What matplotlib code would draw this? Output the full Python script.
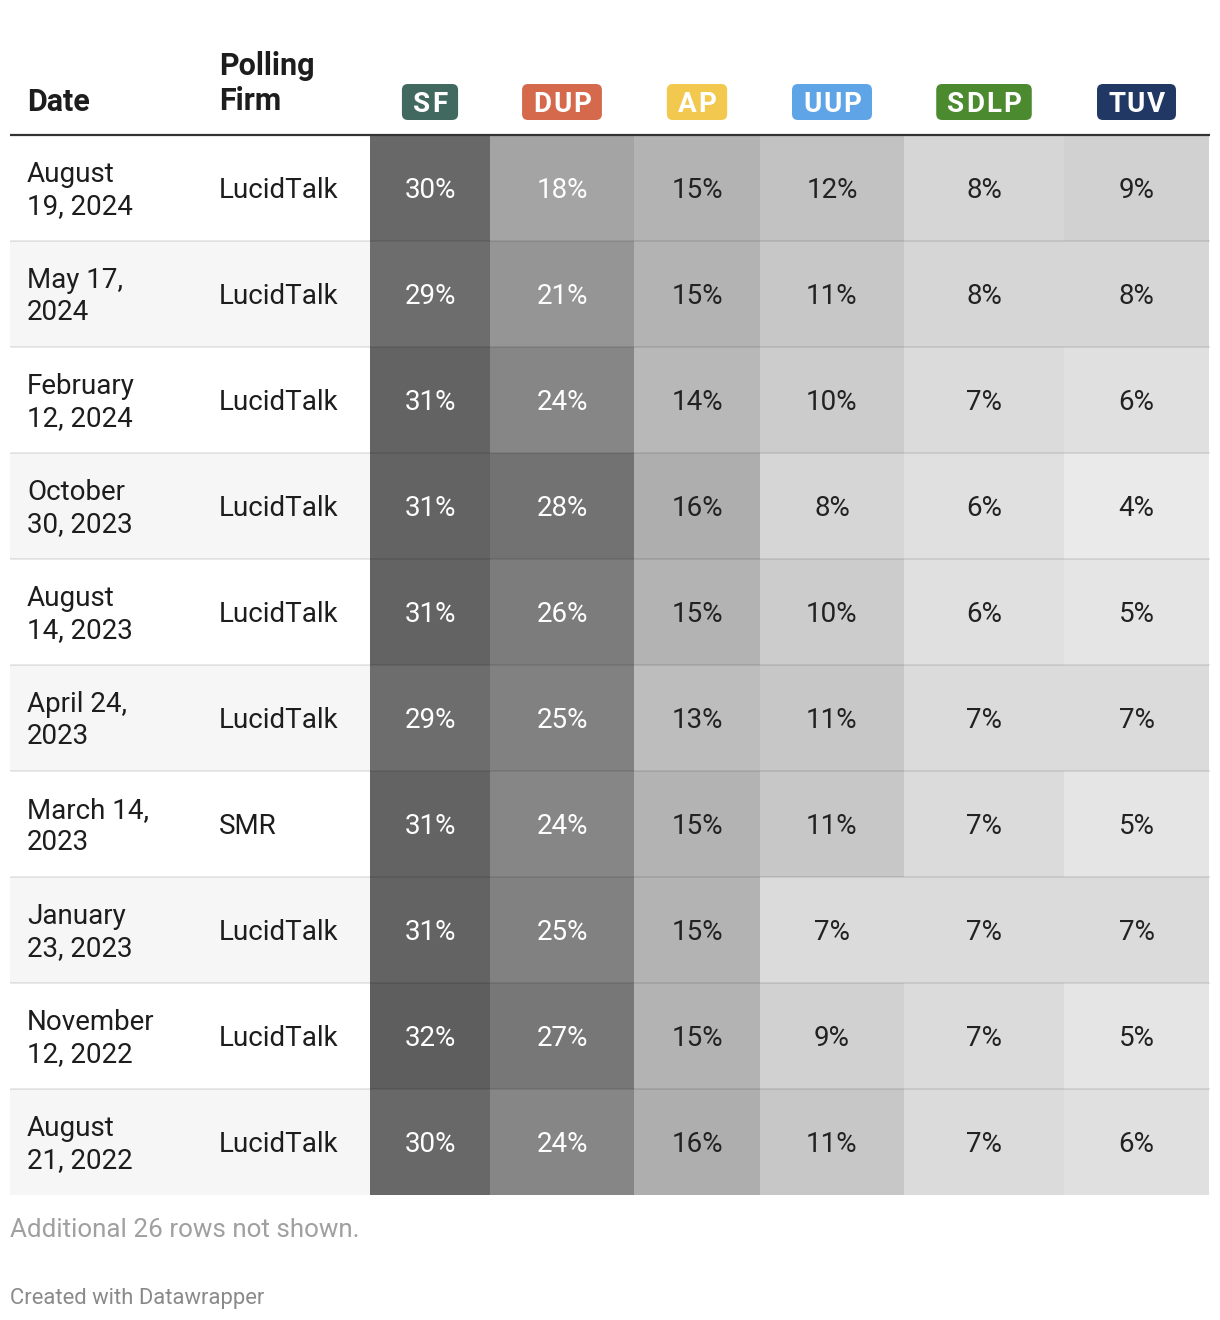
import matplotlib.pyplot as plt
import numpy as np
from matplotlib.colors import LinearSegmentedColormap, Normalize
from matplotlib.patches import FancyBboxPatch

plt.rcParams['font.family'] = ['Roboto', 'DejaVu Sans']

# Data
dates = ["August\n19, 2024", "May 17,\n2024", "February\n12, 2024", "October\n30, 2023",
         "August\n14, 2023", "April 24,\n2023", "March 14,\n2023", "January\n23, 2023",
         "November\n12, 2022", "August\n21, 2022"]
firms = ["LucidTalk", "LucidTalk", "LucidTalk", "LucidTalk", "LucidTalk",
         "LucidTalk", "SMR", "LucidTalk", "LucidTalk", "LucidTalk"]
parties = ["SF", "DUP", "AP", "UUP", "SDLP", "TUV"]
party_colors = ["#42695f", "#d5694b", "#f2c94e", "#5fa4e6", "#4c8a30", "#213865"]
sf = [30, 29, 31, 31, 31, 29, 31, 31, 32, 30]
dup = [18, 21, 24, 28, 26, 25, 24, 25, 27, 24]
ap = [15, 15, 14, 16, 15, 13, 15, 15, 15, 16]
uup = [12, 11, 10, 8, 10, 11, 11, 7, 9, 11]
sdlp = [8, 8, 7, 6, 6, 7, 7, 7, 7, 7]
tuv = [9, 8, 6, 4, 5, 7, 5, 7, 5, 6]

values = np.array([sf, dup, ap, uup, sdlp, tuv]).T

# Layout (pixels)
col_edges = np.array([370, 490, 634, 760, 904, 1064, 1209])
row_h = 106
top = 135
row_edges = top + row_h * np.arange(len(dates) + 1)
row_centers = (row_edges[:-1] + row_edges[1:]) / 2
col_centers = (col_edges[:-1] + col_edges[1:]) / 2

fig = plt.figure(figsize=(12.2, 13.2), dpi=100)
ax = fig.add_axes([0, 0, 1, 1])
ax.set_xlim(0, 1220)
ax.set_ylim(1320, 0)
ax.axis('off')

# Striped background for the text columns
stripe = ['white' if i % 2 == 0 else '#f6f6f6' for i in range(len(dates))]
ax.barh(row_centers, 360, left=10, height=row_h, color=stripe, zorder=0)

# Heat cells
cmap = LinearSegmentedColormap.from_list('greys', ['#eaeaea', '#5e5e5e'])
norm = Normalize(vmin=4, vmax=32)
ax.pcolormesh(col_edges, row_edges, values, cmap=cmap, norm=norm, zorder=1)

# Row separators
for y in row_edges[1:-1]:
    ax.plot([10, 1210], [y, y], color='black', alpha=0.09, lw=1.4, zorder=2,
            solid_capstyle='butt')
# Header rule
ax.plot([10, 1210], [top, top], color='#333333', lw=1.6, zorder=3, solid_capstyle='butt')

txt = '#1d1d1d'
# Row text
for i, (d, f) in enumerate(zip(dates, firms)):
    l1, l2 = d.split('\n')
    ax.text(27, row_centers[i] - 6, l1, fontsize=20, color=txt, va='baseline')
    ax.text(27, row_centers[i] + 26, l2, fontsize=20, color=txt, va='baseline')
    ax.text(219, row_centers[i] + 10, f, fontsize=20, color=txt, va='baseline')
    for j in range(len(parties)):
        v = values[i, j]
        ax.text(col_centers[j], row_centers[i] + 10, f"{v}%", fontsize=20,
                ha='center', va='baseline',
                color='white' if v >= 17 else '#222222')

# Header
ax.text(27, 111, "Date", fontsize=22, fontweight='bold', color=txt, va='baseline')
ax.text(219, 75, "Polling", fontsize=22, fontweight='bold', color=txt, va='baseline')
ax.text(219, 110, "Firm", fontsize=22, fontweight='bold', color=txt, va='baseline')

# Party badges with letter spacing
fig.canvas.draw()
renderer = fig.canvas.get_renderer()
spacing = 1.8
for j, (p, c) in enumerate(zip(parties, party_colors)):
    chars = []
    widths = []
    for ch in p:
        t = ax.text(0, 112, ch, fontsize=20, fontweight='bold', color='white',
                    ha='left', va='baseline', zorder=5)
        widths.append(t.get_window_extent(renderer).width)
        chars.append(t)
    total = sum(widths) + spacing * (len(p) - 1)
    x = col_centers[j] - total / 2
    for t, w in zip(chars, widths):
        t.set_x(x)
        x += w + spacing
    w = total + 22
    ax.add_patch(FancyBboxPatch((col_centers[j] - w / 2, 84), w, 36,
                                boxstyle='round,pad=0,rounding_size=6',
                                fc=c, ec='none', zorder=4))

# Footer
ax.text(10, 1237, "Additional 26 rows not shown.", fontsize=18.7, color='#a0a0a0', va='baseline')
ax.text(10, 1304, "Created with Datawrapper", fontsize=15.8, color='#8a8a8a', va='baseline')

fig.savefig('out.png', dpi=100, facecolor='white')
